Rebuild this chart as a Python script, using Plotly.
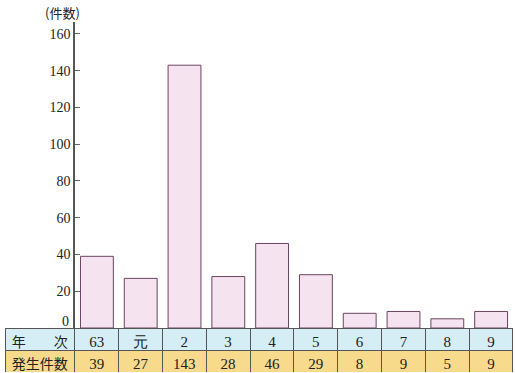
import plotly.graph_objects as go

years = ["63", "元", "2", "3", "4", "5", "6", "7", "8", "9"]
counts = [39, 27, 143, 28, 46, 29, 8, 9, 5, 9]
row_labels = ["年　　次", "発生件数"]
y_ticks = [0, 20, 40, 60, 80, 100, 120, 140, 160]

W, H = 515, 373
def px(x): return x / W
def py(y): return 1 - y / H

serif = "Liberation Serif, Times New Roman, serif"
cjk = "Noto Sans CJK JP"

fig = go.Figure()

fig.add_trace(go.Bar(
    x=list(range(len(years))), y=counts, width=0.75,
    marker=dict(color="#f5e3f0", line=dict(color="#6a4560", width=1)),
    hoverinfo="skip", showlegend=False,
))

fig.add_trace(go.Table(
    domain=dict(x=[px(5), px(513)], y=[py(373), py(328)]),
    columnwidth=[70] + [44] * len(years),
    header=dict(
        values=[row_labels[0]] + years,
        fill_color="#d5edf4",
        line=dict(color="#555555", width=1),
        align="center",
        height=22,
        font=dict(family=[cjk] + [serif] * len(years), size=[14] + [15] * len(years), color="#222222"),
    ),
    cells=dict(
        values=[[row_labels[1]]] + [[c] for c in counts],
        fill_color="#f7da8c",
        line=dict(color="#555555", width=1),
        align="center",
        height=22,
        font=dict(family=[cjk] + [serif] * len(years), size=[14] + [15] * len(years), color="#222222"),
    ),
))

tick_text = ["" if v == 0 else str(v) for v in y_ticks]

fig.update_layout(
    width=W, height=H,
    margin=dict(l=0, r=0, t=0, b=0, autoexpand=False),
    paper_bgcolor="white", plot_bgcolor="white",
    bargap=0.25,
    xaxis=dict(domain=[px(75), px(513)], range=[-0.5, len(years) - 0.5],
               showticklabels=False, ticks="", showgrid=False, zeroline=False,
               showline=False, fixedrange=True, automargin=False),
    yaxis=dict(domain=[py(328), py(22)], range=[0, 166.5],
               tickvals=y_ticks, ticktext=tick_text,
               ticks="inside", ticklen=5, tickcolor="#666666",
               showline=True, linecolor="#555555", linewidth=1.5,
               showgrid=False, zeroline=False, automargin=False,
               tickfont=dict(family=serif, size=14, color="#222222")),
    annotations=[
        dict(text="(件数)", xref="paper", yref="paper",
             x=px(62), y=py(12), showarrow=False,
             xanchor="center", yanchor="middle",
             font=dict(family=cjk, size=13, color="#222222")),
        dict(text="0", xref="paper", yref="y", x=px(71), y=0, yshift=-3,
             xanchor="right", yanchor="bottom", showarrow=False,
             font=dict(family=serif, size=14, color="#222222")),
    ],
)

fig.write_html(
    "out.html",
    config={"displayModeBar": False},
    post_script="document.body.style.margin='0';document.body.style.overflow='hidden';",
)
